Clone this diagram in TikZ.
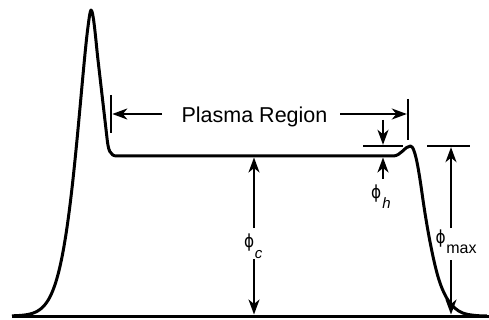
\documentclass[tikz,border=0pt]{standalone}
\usepackage{graphicx}
\usepackage{fontspec}
\setmainfont{Liberation Sans}
\newfontfamily\phifont{DejaVu Sans}
\usetikzlibrary{arrows.meta}
\newcommand{\phisym}{{\phifont\fontsize{18}{18}\selectfont\scalebox{0.85}[1]{ϕ}}}
\begin{document}
\begin{tikzpicture}[x=1pt,y=-1pt,
  curve/.style={line width=3pt, line join=round},
  bar/.style={line width=2.3pt},
  arr/.style={line width=2pt, -{Stealth[length=15pt,width=11pt,inset=4.5pt]}},
  lbl/.style={inner sep=0pt, font=\fontsize{21.5}{24}\selectfont},
  philbl/.style={inner sep=0pt, anchor=base west}
]
\useasboundingbox (0,0) rectangle (489,320);

% baseline and potential curve
\coordinate (bL) at (12,316);
\coordinate (bR) at (489,316);
\draw[curve] (bL) -- (bR);
\draw[curve] plot[domain=12:90.99, samples=90] (\x, {316-306*exp(-((91-\x)/20.8)^1.5)})
  -- (91,10) .. controls (93.5,10) and (96,42.8) .. (98,60)
  -- (107,138) .. controls (108.2,150) and (110,156) .. (117,156)
  -- (393,156) .. controls (401,156) and (405,146) .. (410.5,146)
  .. controls (415.5,146) and (419.5,175.5) .. (423,200)
  .. controls (427,228) and (434,266) .. (440,283)
  .. controls (446,300) and (454,312) .. (468,314.5)
  .. controls (475,315.6) and (480,316) .. (487,316);

% Plasma Region
\node[lbl, anchor=base] (pr) at (254.5,123) {Plasma Region};
\coordinate (lbarT) at (111,95);
\coordinate (lbarB) at (111,133);
\coordinate (rbarT) at (408,99);
\coordinate (rbarB) at (408,140);
\draw[bar] (lbarT) -- (lbarB);
\draw[bar] (rbarT) -- (rbarB);
\coordinate (lA) at (162,114);
\coordinate (lTip) at (112.3,114);
\coordinate (rA) at (340,114);
\coordinate (rTip) at (406.8,114);
\draw[arr] (lA) -- (lTip);
\draw[arr] (rA) -- (rTip);

% phi_c
\coordinate (cT) at (254,157.5);
\coordinate (cU) at (254,228);
\coordinate (cL) at (254,259);
\coordinate (cB) at (254,314.5);
\draw[arr] (cU) -- (cT);
\draw[arr] (cL) -- (cB);
\node[philbl] (phic) at (244,247.5) {\phisym\kern0.5pt\raisebox{-10.5pt}{\fontsize{15}{15}\selectfont\itshape c}};

% phi_h
\coordinate (hbarL) at (363,146);
\coordinate (hbarR) at (403,146);
\draw[bar] (hbarL) -- (hbarR);
\coordinate (hA) at (383,120);
\coordinate (hTip) at (383,144.8);
\coordinate (hB) at (383,179);
\coordinate (hTip2) at (383,157.5);
\draw[arr] (hA) -- (hTip);
\draw[arr] (hB) -- (hTip2);
\node[philbl] (phih) at (371,198.5) {\phisym\kern1pt\raisebox{-9.5pt}{\fontsize{15}{15}\selectfont\itshape h}};

% phi_max
\coordinate (mbarL) at (427,146);
\coordinate (mbarR) at (470,146);
\draw[bar] (mbarL) -- (mbarR);
\coordinate (mT) at (451,147.2);
\coordinate (mU) at (451,228);
\coordinate (mL) at (451,260);
\coordinate (mB) at (451,314.5);
\draw[arr] (mU) -- (mT);
\draw[arr] (mL) -- (mB);
\node[philbl] (phim) at (435.5,243) {\phisym\kern0.5pt\raisebox{-10.5pt}{\fontsize{16}{16}\selectfont max}};
\end{tikzpicture}
\end{document}
